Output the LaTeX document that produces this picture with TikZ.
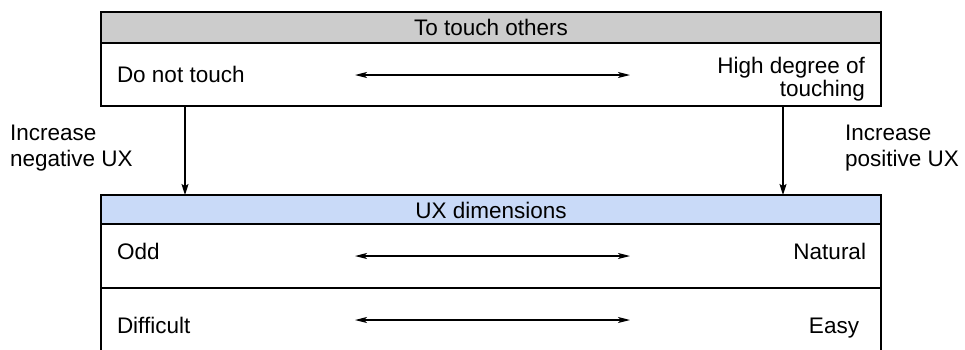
\documentclass[tikz,border=0pt]{standalone}
\usepackage{fontspec}
\setmainfont{Liberation Sans}
\usetikzlibrary{arrows.meta}
\definecolor{hdrgray}{HTML}{CCCCCC}
\definecolor{hdrblue}{HTML}{C9DAF8}
\begin{document}
\begin{tikzpicture}[x=1pt,y=-1pt,
  every node/.style={font=\fontsize{22.5}{25}\selectfont, inner sep=0pt, outer sep=0pt},
  boxpart/.style={draw=black, line width=1.5pt, minimum width=780pt, anchor=north west},
  dblarrow/.style={{Stealth[length=12pt,width=6pt,inset=3pt]}-{Stealth[length=12pt,width=6pt,inset=3pt]}, line width=1.2pt},
  downarrow/.style={-{Stealth[length=11pt,width=7pt,inset=2pt]}, line width=1.2pt},
  lbl/.style={anchor=base west},
  rlbl/.style={anchor=base east}]
\useasboundingbox (0,0) rectangle (965,349);
\begin{scope}
\clip (0,0) rectangle (965,349);
% top box
\node[boxpart, fill=hdrgray, minimum height=31pt] (tophead) at (101,12) {};
\node[boxpart, minimum height=63pt] (topbody) at (101,43) {};
\node[anchor=base] (toptext) at (491,35) {To touch others};
\node[lbl] (dnt) at (117,82) {Do not touch};
\node[rlbl] (hd1) at (865,73) {High degree of};
\node[rlbl] (hd2) at (865,96) {touching};
\coordinate (t1l) at (355,75);
\coordinate (t1r) at (630,75);
\draw[dblarrow] (t1l) -- (t1r);
% bottom box
\node[boxpart, fill=hdrblue, minimum height=29pt] (uxhead) at (101,195) {};
\node[boxpart, minimum height=64pt] (row1) at (101,224) {};
\node[boxpart, minimum height=64pt] (row2) at (101,288) {};
\node[anchor=base] (uxtext) at (491,218) {UX dimensions};
\node[lbl] (odd) at (117,259) {Odd};
\node[rlbl] (nat) at (866,259) {Natural};
\node[lbl] (dif) at (117,333) {Difficult};
\node[rlbl] (easy) at (859,333) {Easy};
\coordinate (r1l) at (355,256);
\coordinate (r1r) at (630,256);
\coordinate (r2l) at (355,320);
\coordinate (r2r) at (630,320);
\draw[dblarrow] (r1l) -- (r1r);
\draw[dblarrow] (r2l) -- (r2r);
% vertical arrows
\coordinate (lx) at (185,0);
\coordinate (rx) at (783,0);
\draw[downarrow] (topbody.south -| lx) -- (uxhead.north -| lx);
\draw[downarrow] (topbody.south -| rx) -- (uxhead.north -| rx);
\node[lbl] (neg1) at (10,140) {Increase};
\node[lbl] (neg2) at (10,166) {negative UX};
\node[lbl] (pos1) at (845,140) {Increase};
\node[lbl] (pos2) at (845,166) {positive UX};
\end{scope}
\end{tikzpicture}
\end{document}
